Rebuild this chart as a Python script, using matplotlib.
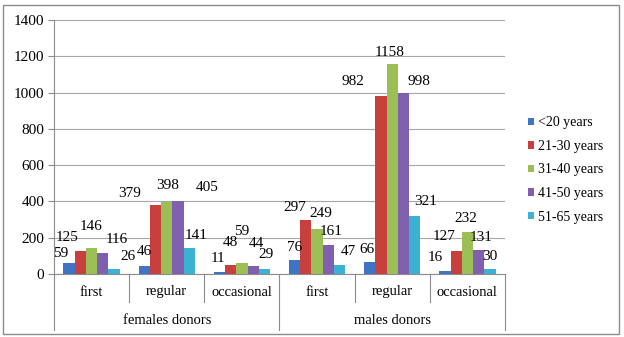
import matplotlib.pyplot as plt
from matplotlib.patches import Rectangle

plt.rcParams['font.family'] = ['Liberation Serif', 'DejaVu Serif']

groups = ["females donors", "males donors"]
categories = ["first", "regular", "occasional", "first", "regular", "occasional"]
series = ["<20 years", "21-30 years", "31-40 years", "41-50 years", "51-65 years"]
colors = ["#3F74C4", "#C8403D", "#9BBF55", "#7F5FAE", "#3BB2D3"]

# one list per age class, in category order
under20 = [59, 46, 11, 76, 66, 16]
age21_30 = [125, 379, 48, 297, 982, 127]
age31_40 = [146, 398, 59, 249, 1158, 232]
age41_50 = [116, 405, 44, 161, 998, 131]
age51_65 = [26, 141, 29, 47, 321, 30]
values = [under20, age21_30, age31_40, age41_50, age51_65]

# label nudges in pixels (x, y above bar top), per category then per series
label_dx = [[-8, -13, 0, 14, 14],
            [0, -26, 1, 29, 7],
            [-1, 0, 0, 3, 2],
            [0, -11, 4, 3, 9],
            [-3, -28, -3, 15, 11],
            [-10, -12, -2, 2, 0]]
label_dy = [[10, 14, 21, 13, 13],
            [14, 12, 16, 13, 13],
            [14, 23, 32, 23, 14],
            [13, 13, 15, 13, 14],
            [13, 14, 11, 11, 14],
            [14, 14, 13, 13, 12]]

fig = plt.figure(figsize=(6.24, 3.37), dpi=100)
W, H = 624, 337
ax = fig.add_axes([54 / W, 1 - 274 / H, 451 / W, 254 / H])

# outer chart frame
fig.patches.append(Rectangle((3 / W, 3 / H), 616 / W, 329 / H, transform=fig.transFigure,
                             fill=False, edgecolor="#8c8c8c", lw=1.0))

bw = 0.15
for i, (name, vals) in enumerate(zip(series, values)):
    xs = [c + (i - 2) * bw for c in range(len(categories))]
    ax.bar(xs, vals, width=bw, color=colors[i], label=name, zorder=3)
    for c, (x, v) in enumerate(zip(xs, vals)):
        ax.annotate(str(v), (x, v), xytext=(label_dx[c][i], label_dy[c][i]),
                    textcoords="offset pixels", ha="center", va="center",
                    fontsize=11, zorder=4)

ax.set_xlim(-0.5, len(categories) - 0.5)
ax.set_ylim(0, 1400)
ax.set_yticks(range(0, 1401, 200))
ax.yaxis.grid(True, color="#a6a6a6", lw=0.8, zorder=0)
ax.set_xticks([])
ax.tick_params(axis="y", length=4, color="#8c8c8c", labelsize=11, pad=3)
for s in ["top", "right"]:
    ax.spines[s].set_visible(False)
ax.spines["left"].set_color("#8c8c8c")
ax.spines["bottom"].set_color("#8c8c8c")

# category axis: labels and separators below the plot
tr = ax.get_xaxis_transform()
px = 1 / 254
for c, name in enumerate(categories):
    ax.text(c, -18 * px, name, transform=tr, ha="center", va="center", fontsize=10.5)
for b in range(1, len(categories)):
    low = -56 * px if b % 3 == 0 else -28 * px
    ax.plot([b - 0.5, b - 0.5], [0, low], transform=tr, color="#8c8c8c", lw=0.8, clip_on=False)
ax.plot([5.5, 5.5], [0, -56 * px], transform=tr, color="#8c8c8c", lw=0.8, clip_on=False)
ax.plot([-0.5, -0.5], [0, -56 * px], transform=tr, color="#8c8c8c", lw=0.8, clip_on=False)
for g, name in enumerate(groups):
    ax.text(g * 3 + 1, -46 * px, name, transform=tr, ha="center", va="center", fontsize=10.5)

ax.legend(loc="center left", bbox_to_anchor=(521 / W, 1 - 170 / H), bbox_transform=fig.transFigure,
          frameon=False, fontsize=10, handlelength=0.45, handleheight=0.45, handletextpad=0.3,
          labelspacing=0.76, borderpad=0)

fig.savefig("out.png", dpi=100)
